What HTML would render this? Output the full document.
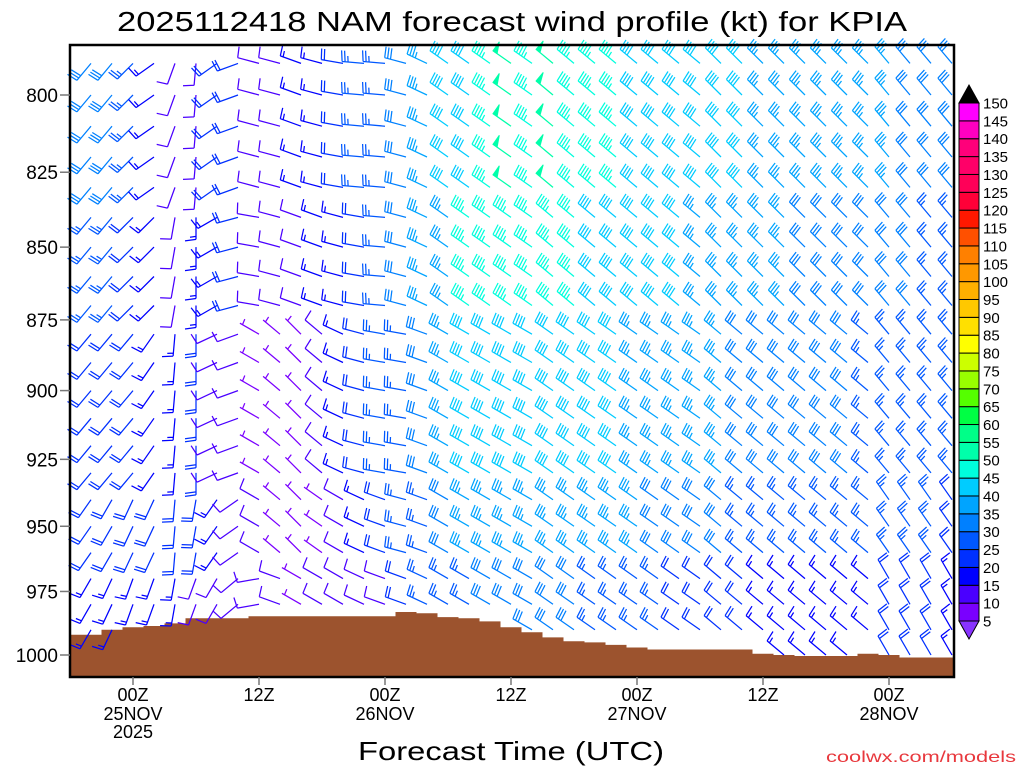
<!DOCTYPE html>
<html><head><meta charset="utf-8"><style>
html,body{margin:0;padding:0;background:#fff;}
svg{display:block;font-family:"Liberation Sans",sans-serif;}
</style></head><body>
<svg id="chart" width="1024" height="768" viewBox="0 0 1024 768" xmlns="http://www.w3.org/2000/svg">
<text x="512" y="31" text-anchor="middle" font-size="28" textLength="790" lengthAdjust="spacingAndGlyphs" fill="#000">2025112418 NAM forecast wind profile (kt) for KPIA</text>
<g id="ground"></g>
<g id="barbs"></g>
<rect x="70" y="45" width="884" height="632" fill="none" stroke="#000" stroke-width="2.5"/>
<g id="yaxis"></g>
<g id="xaxis"></g>
<g id="legend"></g>
<text x="511" y="760" text-anchor="middle" font-size="26" textLength="306" lengthAdjust="spacingAndGlyphs" fill="#000">Forecast Time (UTC)</text>
<text x="921" y="762" text-anchor="middle" font-size="16" textLength="190" lengthAdjust="spacingAndGlyphs" fill="#e8383d">coolwx.com/models</text>
</svg>
<script>
// ---- data ----
const levels=[790,800,810,820,830,840,850,860,870,880,890,900,910,920,930,940,950,960,970,980,990,1000];
const levelBand=[0,0,0,0,0,1,1,1,1,2,2,2,2,2,2,3,3,3,4,4,4,4];
const colHours=[2,4,6,8,10,12,14,16,18,20,22,24,26,28,30,32,34,36,38,40,42,44,46,48,50,52,54,56,58,60,62,64,66,68,70,72,74,76,78,80,82,84];
const speeds=[
[30,25,20,20,15],[30,25,20,20,15],[25,20,20,20,15],[15,15,15,20,15],[10,10,15,20,15],
[10,15,20,20,10],[20,15,10,15,10],[20,20,10,10,10],[10,10,5,10,10],[10,10,5,5,10],
[15,10,5,5,5],[15,15,10,5,10],[20,15,15,10,10],[25,20,20,15,10],[25,25,25,20,10],
[30,30,25,25,20],[35,35,30,25,25],[40,35,35,30,25],[40,45,40,35,25],[45,45,40,35,30],
[50,45,40,35,30],[45,45,40,35,30],[50,45,40,35,30],[45,45,40,35,30],[45,40,40,35,25],
[45,40,40,35,25],[40,40,35,35,25],[40,40,35,30,25],[40,40,35,30,20],[40,35,35,30,20],
[40,35,35,30,20],[40,35,30,25,20],[35,35,30,25,15],[35,35,30,25,15],[35,30,30,25,15],
[35,30,30,25,15],[35,30,30,25,15],[35,30,25,25,15],[35,30,25,25,20],[30,30,25,25,20],
[30,25,25,25,20],[30,25,25,20,15]];
const directions=[
[220,220,220,215,210],[220,220,220,210,205],[225,225,220,205,200],[235,225,215,205,200],[200,190,185,185,190],
[185,180,180,190,200],[235,240,245,215,210],[250,255,250,235,230],[285,280,300,300,260],[285,285,310,310,290],
[290,290,315,315,300],[285,290,310,305,300],[280,285,295,300,300],[275,280,285,295,295],[275,275,280,290,290],
[285,285,280,285,290],[295,295,290,290,295],[305,305,300,300,300],[305,305,300,300,300],[305,305,300,300,300],
[305,305,300,300,300],[305,305,300,300,300],[310,310,305,305,305],[310,310,305,305,305],[310,310,305,305,305],
[310,310,305,305,305],[310,310,305,305,305],[310,310,305,305,305],[310,310,305,305,305],[310,310,305,305,305],
[315,315,310,310,310],[315,315,310,310,310],[315,315,310,310,310],[315,315,310,310,310],[315,315,310,310,310],
[315,315,310,310,310],[315,315,310,310,310],[315,315,310,310,310],[320,320,320,325,330],[320,320,320,325,330],
[320,320,320,325,330],[320,320,320,325,330]];
const groundHours=[0,2,4,6,8,10,12,14,16,18,20,22,24,26,28,30,32,34,36,38,40,42,44,46,48,50,52,54,56,58,60,62,64,66,68,70,72,74,76,78,80,82,84];
const surfacePressure=[992,992,990,989,988.5,987.5,985.5,985.5,985.5,984.7,984.7,984.7,984.7,984.7,984.7,984.7,983,983.5,985,985.5,986.7,989,991,993,994.5,995,996,997,997.8,997.8,997.8,997.8,997.8,999.5,1000,1000.4,1000.4,1000.4,999.5,1000,1001,1001,1001];
const yTicks=[800,825,850,875,900,925,950,975,1000];
const xTickHours=[6,18,30,42,54,66,78];
const xTickLine1=["00Z","12Z","00Z","12Z","00Z","12Z","00Z"];
const xTickLine2=["25NOV","","26NOV","","27NOV","","28NOV"];
const xTickLine3=["2025","","","","","",""];
const legendValues=[5,10,15,20,25,30,35,40,45,50,55,60,65,70,75,80,85,90,95,100,105,110,115,120,125,130,135,140,145,150];
const legendColors=["#7a00ff","#4a00ff","#0000ff","#0030ff","#0058ff","#0080ff","#00a4ff","#00ccff","#00ffdd","#00ffaa","#00ff88","#00ff44","#55ff00","#99ff00","#ccff00","#ffff00","#ffe000","#ffc800","#ffb000","#ff9800","#ff8000","#ff5000","#ff1800","#ff0038","#ff0058","#ff0068","#ff007a","#ff00c0","#ff00ff"];
const belowColor="#8833ff", aboveColor="#000000";

// ---- scales ----
const NS="http://www.w3.org/2000/svg";
const lnTop=Math.log(800), lnSpan=Math.log(1000)-Math.log(800);
function yOf(p){return 95+(Math.log(p)-lnTop)*560/lnSpan;}
function xOf(h){return 70+h*10.5;}
function colorFor(s){
  if(s<5) return belowColor;
  for(let i=0;i<legendColors.length;i++){ if(s<legendValues[i+1]) return legendColors[i]; }
  return aboveColor;
}
function mk(tag,attrs,parent){const e=document.createElementNS(NS,tag);for(const k in attrs)e.setAttribute(k,attrs[k]);parent.appendChild(e);return e;}

// ---- ground ----
const gG=document.getElementById('ground');
let gp='M70,677';
groundHours.forEach((h,i)=>{
  const x0=Math.max(70,xOf(h-1)), x1=Math.min(954,xOf(h+1)), y=yOf(surfacePressure[i]);
  gp+=` L${x0.toFixed(1)},${y.toFixed(1)} L${x1.toFixed(1)},${y.toFixed(1)}`;
});
gp+=' L954,677 Z';
const gpath=mk('path',{d:gp,fill:'#9c532e'},gG);



// ---- barbs ----
const bG=document.getElementById('barbs');
function surfAt(h){let best=0,bd=1e9;groundHours.forEach((g,i)=>{const d=Math.abs(g-h);if(d<bd){bd=d;best=i;}});return surfacePressure[best];}
colHours.forEach((h,k)=>{
  const x=xOf(h), ps=surfAt(h);
  levels.forEach((p,j)=>{
    if(p>ps) return;
    const b=levelBand[j];
    const s=speeds[k][b], d=directions[k][b];
    const y=yOf(p);
    const r=d*Math.PI/180, ux=Math.sin(r), uy=-Math.cos(r), bx=-uy, by=ux;
    const L=22, tx=x+ux*L, ty=y+uy*L;
    let path=`M${x.toFixed(1)},${y.toFixed(1)}L${tx.toFixed(1)},${ty.toFixed(1)}`;
    let rem=Math.round(s/5)*5, pos=0, flags='';
    while(rem>=50){
      const ax=tx-ux*pos, ay=ty-uy*pos, cx=tx-ux*(pos+5), cy=ty-uy*(pos+5);
      flags+=`M${ax.toFixed(1)},${ay.toFixed(1)}L${(ax+bx*11).toFixed(1)},${(ay+by*11).toFixed(1)}L${cx.toFixed(1)},${cy.toFixed(1)}Z`;
      pos+=7; rem-=50;
    }
    while(rem>=10){
      const ax=tx-ux*pos, ay=ty-uy*pos;
      path+=`M${ax.toFixed(1)},${ay.toFixed(1)}l${(bx*11+ux*1.5).toFixed(1)},${(by*11+uy*1.5).toFixed(1)}`;
      pos+=3; rem-=10;
    }
    if(rem>=5){
      if(pos===0) pos=3;
      const ax=tx-ux*pos, ay=ty-uy*pos;
      path+=`M${ax.toFixed(1)},${ay.toFixed(1)}l${(bx*6+ux*0.8).toFixed(1)},${(by*6+uy*0.8).toFixed(1)}`;
    }
    const c=colorFor(s);
    const e=mk('path',{d:path,stroke:c,'stroke-width':1.25,fill:'none'},bG);
    
    
    if(flags){
      const f=mk('path',{d:flags,fill:c,stroke:c,'stroke-width':1},bG);
      
      
    }
  });
});

// ---- y axis ----
const yG=document.getElementById('yaxis');
yTicks.forEach(p=>{
  const y=yOf(p);
  const t=mk('line',{x1:60,x2:70,y1:y,y2:y,stroke:'#777','stroke-width':1.5},yG);
  
  
  const l=mk('text',{x:58,y:y+7,'text-anchor':'end','font-size':19,fill:'#000'},yG);
  
  
  l.textContent=p;
});

// ---- x axis ----
const xG=document.getElementById('xaxis');
xTickHours.forEach((h,i)=>{
  const x=xOf(h);
  const t=mk('line',{x1:x,x2:x,y1:677,y2:685,stroke:'#777','stroke-width':1.5},xG);
  
  
  [[xTickLine1[i],701],[xTickLine2[i],720],[xTickLine3[i],738]].forEach(([s,yy])=>{
    if(!s) return;
    const l=mk('text',{x:x,y:yy,'text-anchor':'middle','font-size':18,fill:'#000'},xG);
    
    
    l.textContent=s;
  });
});

// ---- legend ----
const lG=document.getElementById('legend');
const lx=959, lw=20, ltop=103, lstep=(621-103)/29;
const up=mk('path',{d:`M${lx},${ltop}L${lx+lw},${ltop}L${lx+lw/2},${ltop-18}Z`,fill:aboveColor,stroke:'#000','stroke-width':1},lG);


const dn=mk('path',{d:`M${lx},621L${lx+lw},621L${lx+lw/2},639Z`,fill:belowColor,stroke:'#000','stroke-width':1},lG);


legendColors.forEach((c,i)=>{
  const y=621-(i+1)*lstep;
  const r=mk('rect',{x:lx,y:y,width:lw,height:lstep,fill:c,stroke:'#000','stroke-width':1},lG);
  
  
});
legendValues.forEach((v,i)=>{
  const y=621-i*lstep;
  const t=mk('text',{x:983,y:y+5.5,'font-size':15,fill:'#000'},lG);
  
  
  t.textContent=v;
});
</script>
</body></html>
